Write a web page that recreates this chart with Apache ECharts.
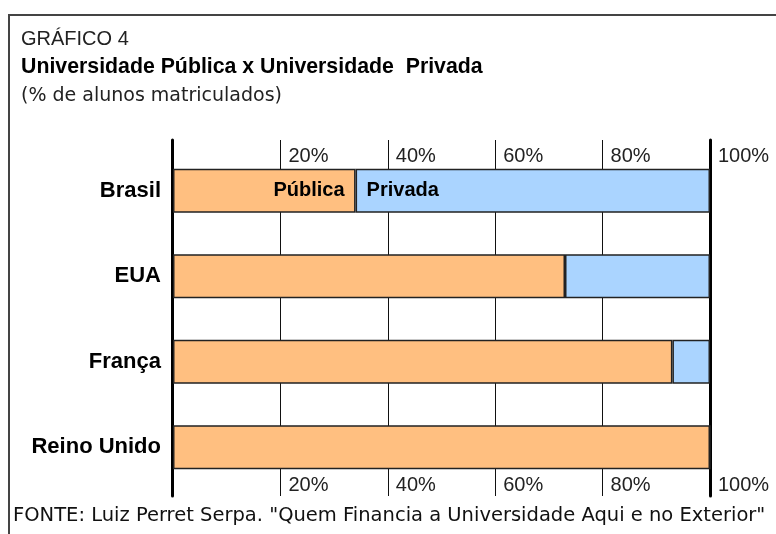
<!DOCTYPE html>
<html>
<head>
<meta charset="utf-8">
<script src="https://cdn.jsdelivr.net/npm/echarts@6/dist/echarts.min.js"></script>
<style>html,body{margin:0;padding:0;background:#fff}#c{width:776px;height:534px}</style>
</head>
<body>
<div id="c"></div>
<script>
const categories = ['Brasil', 'EUA', 'França', 'Reino Unido'];
const publica = [34, 73, 93, 100];
const privada = [66, 27, 7, 0];
const seriesNames = ['Pública', 'Privada'];
const tickValues = [0, 20, 40, 60, 80, 100];

const chart = echarts.init(document.getElementById('c'), null, {renderer: 'canvas'});
const tickFmt = v => (v === 0 ? '' : v + '%');
const tickLabel = {
  show: true, inside: true, align: 'left', fontFamily: 'Liberation Sans',
  fontSize: 20, color: '#222', padding: [0, 0, 0, 8], formatter: tickFmt,
  showMinLabel: true, showMaxLabel: true
};
const labelStyle = {fontFamily: 'Liberation Sans', fontWeight: 'bold', fontSize: 20, color: '#000'};

const option = {
  animation: false,
  backgroundColor: '#fff',
  title: [
    {text: 'GRÁFICO 4', left: 21, top: 29, padding: 0,
     textStyle: {fontFamily: 'Liberation Sans', fontSize: 20, fontWeight: 'normal', color: '#222'}},
    {text: 'Universidade Pública x Universidade  Privada', left: 21, top: 57, padding: 0,
     textStyle: {fontFamily: 'Liberation Sans', fontSize: 21.3, fontWeight: 'bold', color: '#000'}},
    {text: '(% de alunos matriculados)', left: 21, top: 87, padding: 0,
     textStyle: {fontFamily: 'DejaVu Sans', fontSize: 19, fontWeight: 'normal', color: '#222'}},
    {text: 'FONTE: Luiz Perret Serpa. "Quem Financia a Universidade Aqui e no Exterior"', left: 13, top: 506, padding: 0,
     textStyle: {fontFamily: 'DejaVu Sans', fontSize: 19.5, fontWeight: 'normal', color: '#111'}}
  ],
  graphic: [
    {type: 'rect', shape: {x: 9, y: 15, width: 1000, height: 1000}, style: {fill: 'none', stroke: '#444', lineWidth: 2}, silent: true}
  ],
  grid: [
    {left: 173, right: 66, top: 140, bottom: 38, outerBoundsMode: 'none'},
    {left: 173, right: 66, top: 148, bottom: 44, outerBoundsMode: 'none'}
  ],
  xAxis: [
    {gridIndex: 0, type: 'value', position: 'top', min: 0, max: 100, interval: 20,
     axisLine: {show: false, onZero: false}, axisTick: {show: false},
     splitLine: {show: true, lineStyle: {color: '#111', width: 1}},
     axisLabel: Object.assign({}, tickLabel, {verticalAlign: 'top', margin: 6})},
    {gridIndex: 0, type: 'value', position: 'bottom', min: 0, max: 100, interval: 20,
     axisLine: {show: false, onZero: false}, axisTick: {show: false}, splitLine: {show: false},
     axisLabel: Object.assign({}, tickLabel, {verticalAlign: 'bottom', margin: 1})},
    {gridIndex: 1, type: 'value', min: 0, max: 100, show: false}
  ],
  yAxis: [
    {gridIndex: 0, type: 'value', min: 0, max: 1, position: 'left', offset: 1,
     axisLine: {show: true, onZero: false, lineStyle: {color: '#000', width: 3}},
     axisTick: {show: false}, axisLabel: {show: false}, splitLine: {show: false}},
    {gridIndex: 0, type: 'value', min: 0, max: 1, position: 'right',
     axisLine: {show: true, onZero: false, lineStyle: {color: '#000', width: 3}},
     axisTick: {show: false}, axisLabel: {show: false}, splitLine: {show: false}},
    {gridIndex: 1, type: 'category', inverse: true, data: categories,
     axisLine: {show: false}, axisTick: {show: false}, splitLine: {show: false},
     axisLabel: {fontFamily: 'Liberation Sans', fontWeight: 'bold', fontSize: 22, color: '#000', margin: 12}}
  ],
  series: [
    {name: seriesNames[0], type: 'bar', stack: 'total', xAxisIndex: 2, yAxisIndex: 2, barWidth: 44,
     itemStyle: {color: '#FFBF80', borderColor: '#222', borderWidth: 1.5},
     data: publica.map((v, i) => i === 0
       ? {value: v, label: Object.assign({show: true, position: 'insideRight', distance: 11, formatter: '{a}'}, labelStyle)}
       : v)},
    {name: seriesNames[1], type: 'bar', stack: 'total', xAxisIndex: 2, yAxisIndex: 2, barWidth: 44,
     itemStyle: {color: '#AAD4FF', borderColor: '#222', borderWidth: 1.5},
     data: privada.map((v, i) => i === 0
       ? {value: v, label: Object.assign({show: true, position: 'insideLeft', distance: 11, formatter: '{a}'}, labelStyle)}
       : v)}
  ]
};
chart.setOption(option);
</script>
</body>
</html>
